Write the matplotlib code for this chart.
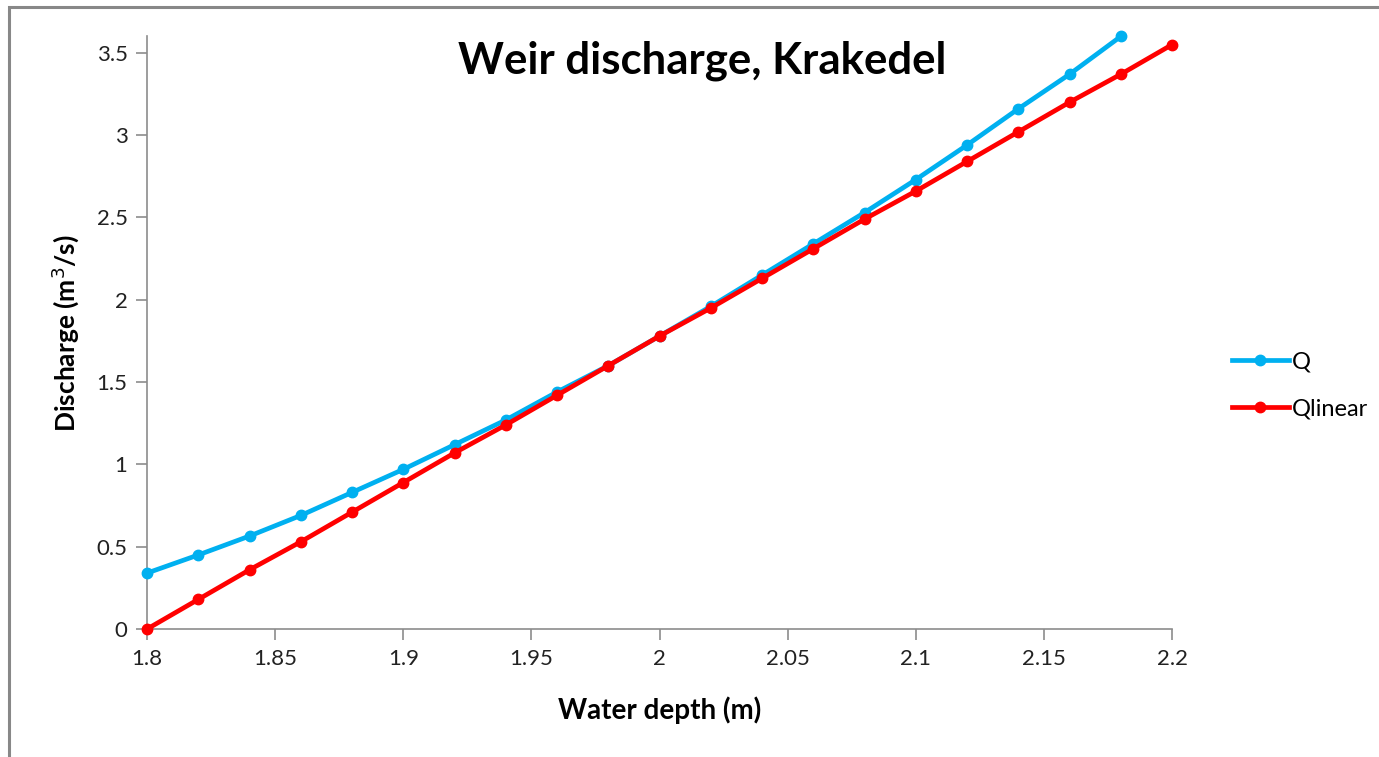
import matplotlib
matplotlib.use('Agg')
import matplotlib.pyplot as plt
from matplotlib.patches import Rectangle

# Data
depth = [1.80, 1.82, 1.84, 1.86, 1.88, 1.90, 1.92, 1.94, 1.96, 1.98, 2.00,
         2.02, 2.04, 2.06, 2.08, 2.10, 2.12, 2.14, 2.16, 2.18, 2.20]
q = [0.34, 0.45, 0.565, 0.69, 0.83, 0.97, 1.12, 1.27, 1.44, 1.60, 1.78,
     1.96, 2.15, 2.34, 2.53, 2.73, 2.94, 3.16, 3.37, 3.60]
q_linear = [0.0, 0.18, 0.36, 0.53, 0.71, 0.89, 1.07, 1.24, 1.42, 1.60, 1.78,
            1.95, 2.13, 2.31, 2.49, 2.66, 2.84, 3.02, 3.20, 3.37, 3.55]
xticks = [1.8, 1.85, 1.9, 1.95, 2.0, 2.05, 2.1, 2.15, 2.2]
xtick_labels = ['1.8', '1.85', '1.9', '1.95', '2', '2.05', '2.1', '2.15', '2.2']
yticks = [0, 0.5, 1, 1.5, 2, 2.5, 3, 3.5]
ytick_labels = ['0', '0.5', '1', '1.5', '2', '2.5', '3', '3.5']

plt.rcParams['font.family'] = ['Lato', 'DejaVu Sans']

fig = plt.figure(figsize=(13.79, 7.57), dpi=100)
ax = fig.add_axes([0.1066, 0.169, 0.7434, 0.783])

ax.plot(depth[:len(q)], q, color='#00B0F0', linewidth=3.4, marker='o',
        markersize=7.5, label='Q', clip_on=False, zorder=3)
ax.plot(depth, q_linear, color='#FF0000', linewidth=3.4, marker='o',
        markersize=7.5, label='Qlinear', clip_on=False, zorder=3)

ax.set_xlim(1.8, 2.2)
ax.set_ylim(0, 3.6)
ax.set_xticks(xticks)
ax.set_xticklabels(xtick_labels)
ax.set_yticks(yticks)
ax.set_yticklabels(ytick_labels)
ax.tick_params(axis='both', direction='out', length=8, width=1.2,
               color='#8c8c8c', labelsize=16, labelcolor='#222222', pad=6)

for side in ['top', 'right']:
    ax.spines[side].set_visible(False)
for side in ['left', 'bottom']:
    ax.spines[side].set_color('#8c8c8c')
    ax.spines[side].set_linewidth(1.2)

fig.text(0.509, 0.92, 'Weir discharge, Krakedel', ha='center', va='center',
         fontsize=31.5, fontweight='bold')
fig.text(0.047, 0.56, 'Discharge (m$^3$/s)', ha='center', va='center',
         rotation=90, fontsize=19, fontweight='bold')
fig.text(0.478, 0.062, 'Water depth (m)', ha='center', va='center',
         fontsize=20, fontweight='bold')

fig.legend(loc='center left', bbox_to_anchor=(0.878, 0.491), frameon=False,
           fontsize=17, handlelength=2.4, labelspacing=1.1, handletextpad=0.15)

# outer chart border
fig.patches.append(Rectangle((9 / 1379, -0.1), 1.2, 1 - 7 / 757 + 0.1,
                             transform=fig.transFigure, fill=False,
                             edgecolor='#888888', linewidth=2.2))

fig.savefig('out.png', dpi=100)
